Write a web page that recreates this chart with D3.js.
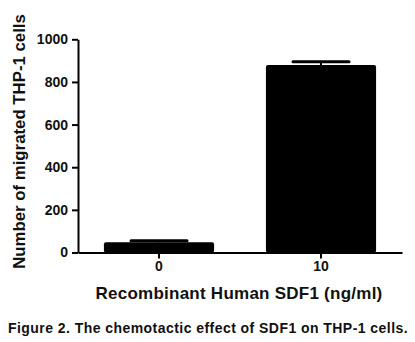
<!DOCTYPE html>
<html><head><meta charset="utf-8">
<script src="https://cdn.jsdelivr.net/npm/d3@7"></script>
<style>
html,body{margin:0;padding:0;background:#fff;}
svg{display:block;}
text{font-family:"Liberation Sans",Arial,sans-serif;font-weight:bold;fill:#111;}
</style></head>
<body>
<svg id="chart" width="415" height="342"></svg>
<script>
const categories = ["0", "10"];
const means = [48, 880];
const errors = [7, 15];
const yTicks = [0, 200, 400, 600, 800, 1000];
const xTitle = "Recombinant Human SDF1 (ng/ml)";
const yTitle = "Number of migrated THP-1 cells";
const caption = "Figure 2. The chemotactic effect of SDF1 on THP-1 cells.";

const svg = d3.select("#chart");
svg.append("rect").attr("width",415).attr("height",342).attr("fill","#fff");

const x0 = 78, x1 = 402, yBase = 252.5, yTop = 39.3;
const x = d3.scaleBand().domain(categories).range([x0, x1]).paddingInner(0.32).paddingOuter(0.16);
const y = d3.scaleLinear().domain([0, 1000]).range([yBase, yTop]);

// bars
svg.selectAll("rect.bar").data(categories).enter().append("rect")
  .attr("class","bar")
  .attr("x", d => x(d))
  .attr("width", x.bandwidth())
  .attr("y", (d,i) => y(means[i]))
  .attr("height", (d,i) => yBase - y(means[i]))
  .attr("rx", 2)
  .attr("fill", "#000");

// error bars
const capW = 56;
categories.forEach((c,i) => {
  const cx = x(c) + x.bandwidth()/2;
  svg.append("line").attr("x1",cx).attr("x2",cx)
    .attr("y1", y(means[i])).attr("y2", y(means[i]+errors[i]))
    .attr("stroke","#000").attr("stroke-width",2);
  svg.append("line").attr("x1",cx-capW/2).attr("x2",cx+capW/2)
    .attr("y1", y(means[i]+errors[i])).attr("y2", y(means[i]+errors[i]))
    .attr("stroke","#000").attr("stroke-width",3).attr("stroke-linecap","round");
});

const fontFam = '"Liberation Sans",Arial,sans-serif';
// y axis
const yAxis = d3.axisLeft(y).tickValues(yTicks).tickFormat(d3.format("d")).tickSize(6).tickPadding(4).tickSizeOuter(0);
const gy = svg.append("g").attr("transform",`translate(${x0},0)`).call(yAxis);
gy.select(".domain").attr("stroke","#000").attr("stroke-width",2);
gy.selectAll(".tick line").attr("stroke","#000").attr("stroke-width",2);
gy.selectAll(".tick text").attr("font-size",14).attr("font-family",fontFam).attr("font-weight","bold").attr("fill","#111");

// x axis
const xAxis = d3.axisBottom(x).tickSize(6).tickPadding(3).tickSizeOuter(0);
const gx = svg.append("g").attr("transform",`translate(0,${yBase})`).call(xAxis);
gx.select(".domain").attr("stroke","#000").attr("stroke-width",2);
gx.selectAll(".tick line").attr("stroke","#000").attr("stroke-width",2);
gx.selectAll(".tick text").attr("font-size",14).attr("font-family",fontFam).attr("font-weight","bold").attr("fill","#111");

// titles
svg.append("text").attr("x", 239).attr("y", 299).attr("text-anchor","middle")
  .attr("font-size",17).attr("letter-spacing",0.25).text(xTitle);
svg.append("text").attr("transform","translate(25,141.5) rotate(-90)").attr("text-anchor","middle")
  .attr("font-size",16.8).text(yTitle);
svg.append("text").attr("x", 208).attr("y", 333).attr("text-anchor","middle")
  .attr("font-size",14).attr("letter-spacing",0.45).text(caption);
</script>
</body></html>
